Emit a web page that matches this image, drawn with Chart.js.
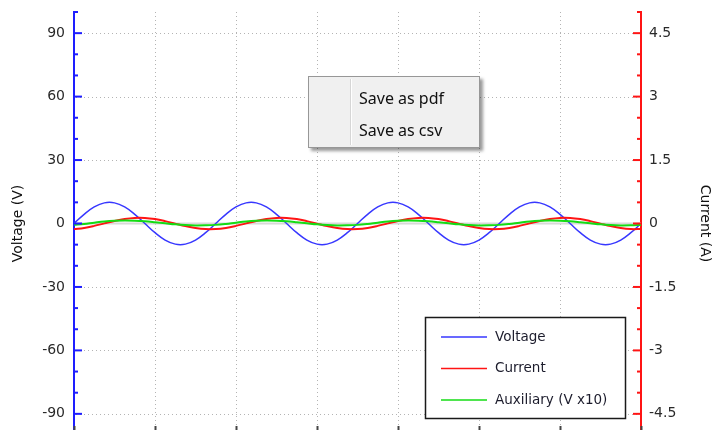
<!DOCTYPE html>
<html><head><meta charset="utf-8">
<script src="https://cdn.jsdelivr.net/npm/chart.js@4/dist/chart.umd.min.js"></script>
<style>
html,body{margin:0;padding:0;overflow:hidden;background:#fff;width:724px;height:430px}
#wrap{position:relative;width:724px;height:430px;overflow:hidden}
#c{position:absolute;left:0;top:0}
#menu{position:absolute;left:308px;top:76px;width:172px;height:72px;box-sizing:border-box;background:#f0f0f0;border:1px solid #979797;box-shadow:3px 3px 3px rgba(0,0,0,0.4);font-family:"Noto Sans",sans-serif;font-size:16px;color:#111}
#menu .sep{position:absolute;left:41px;top:2px;bottom:2px;width:1px;background:#d6d6d6;border-right:1px solid #fff}
#menu .item{position:absolute;left:50px;line-height:20px;white-space:nowrap}
</style></head><body>
<div id="wrap">
<canvas id="c" width="724" height="470"></canvas>
<div id="menu"><div class="sep"></div><div class="item" style="top:11px">Save as pdf</div><div class="item" style="top:43px">Save as csv</div></div>
</div>
<script>
const seriesLabels = ['Voltage', 'Current', 'Auxiliary (V x10)'];
const timeValues = [0,0.125,0.25,0.375,0.5,0.625,0.75,0.875,1,1.125,1.25,1.375,1.5,1.625,1.75,1.875,2,2.125,2.25,2.375,2.5,2.625,2.75,2.875,3,3.125,3.25,3.375,3.5,3.625,3.75,3.875,4,4.125,4.25,4.375,4.5,4.625,4.75,4.875,5,5.125,5.25,5.375,5.5,5.625,5.75,5.875,6,6.125,6.25,6.375,6.5,6.625,6.75,6.875,7];
const voltage = [0,4.34,7.82,9.75,9.75,7.82,4.34,0,-4.34,-7.82,-9.75,-9.75,-7.82,-4.34,
  0,4.34,7.82,9.75,9.75,7.82,4.34,0,-4.34,-7.82,-9.75,-9.75,-7.82,-4.34,
  0,4.34,7.82,9.75,9.75,7.82,4.34,0,-4.34,-7.82,-9.75,-9.75,-7.82,-4.34,
  0,4.34,7.82,9.75,9.75,7.82,4.34,0,-4.34,-7.82,-9.75,-9.75,-7.82,-4.34,0];
const current = [-0.131,-0.104,-0.056,0.003,0.061,0.107,0.132,0.131,0.104,0.056,-0.003,-0.061,-0.107,-0.132,
  -0.131,-0.104,-0.056,0.003,0.061,0.107,0.132,0.131,0.104,0.056,-0.003,-0.061,-0.107,-0.132,
  -0.131,-0.104,-0.056,0.003,0.061,0.107,0.132,0.131,0.104,0.056,-0.003,-0.061,-0.107,-0.132,
  -0.131,-0.104,-0.056,0.003,0.061,0.107,0.132,0.131,0.104,0.056,-0.003,-0.061,-0.107,-0.132,-0.131];
const auxiliary = [-0.65,-0.2,0.4,0.95,1.3,1.45,1.35,1.05,0.6,0.1,-0.4,-0.75,-0.9,-0.85,
  -0.65,-0.2,0.4,0.95,1.3,1.45,1.35,1.05,0.6,0.1,-0.4,-0.75,-0.9,-0.85,
  -0.65,-0.2,0.4,0.95,1.3,1.45,1.35,1.05,0.6,0.1,-0.4,-0.75,-0.9,-0.85,
  -0.65,-0.2,0.4,0.95,1.3,1.45,1.35,1.05,0.6,0.1,-0.4,-0.75,-0.9,-0.85,-0.65];
const voltTicks = [-90,-60,-30,0,30,60,90];
const currentTicks = [-4.5,-3,-1.5,0,1.5,3,4.5];
const timeTicks = [0,1,2,3,4,5,6,7];

const colors = ['rgb(55,55,255)', 'rgb(255,20,20)', 'rgb(20,220,20)'];
const pts = arr => timeValues.map((t, i) => ({x: t, y: arr[i]}));

const decorPlugin = {
  id: 'decor',
  beforeDatasetsDraw(chart) {
    const {ctx, chartArea: a, scales} = chart;
    const y = scales.y, x = scales.x;
    ctx.save();
    ctx.strokeStyle = '#b4b4b4';
    ctx.lineWidth = 1;
    ctx.setLineDash([1, 3]);
    voltTicks.forEach(v => {
      if (v === 0) return;
      const py = Math.round(y.getPixelForValue(v)) + 0.5;
      ctx.beginPath(); ctx.moveTo(a.left + 2, py); ctx.lineTo(a.right - 2, py); ctx.stroke();
    });
    timeTicks.forEach(t => {
      const px = Math.round(x.getPixelForValue(t)) + 0.5;
      if (px < a.left + 3 || px > a.right - 3) return;
      ctx.beginPath(); ctx.moveTo(px, a.top); ctx.lineTo(px, a.bottom); ctx.stroke();
    });
    ctx.setLineDash([]);
    ctx.strokeStyle = '#d8d8d8';
    ctx.lineWidth = 2;
    const zy = y.getPixelForValue(0);
    ctx.beginPath(); ctx.moveTo(a.left, zy); ctx.lineTo(a.right, zy); ctx.stroke();
    ctx.restore();
  },
  afterDatasetsDraw(chart) {
    const {ctx, chartArea: a, scales} = chart;
    const y = scales.y, y1 = scales.y1, x = scales.x;
    ctx.save();
    ctx.strokeStyle = 'rgb(30,30,255)';
    ctx.lineWidth = 2;
    for (let v = y.min; v <= y.max + 1e-9; v += 10) {
      const major = voltTicks.includes(Math.round(v));
      const py = y.getPixelForValue(v);
      ctx.beginPath(); ctx.moveTo(a.left, py); ctx.lineTo(a.left + (major ? 8 : 4), py); ctx.stroke();
    }
    ctx.strokeStyle = 'rgb(255,20,20)';
    for (let k = Math.round(y1.min * 2); k <= Math.round(y1.max * 2); k++) {
      const v = k / 2;
      const major = currentTicks.some(t => Math.abs(t - v) < 1e-6);
      const py = y1.getPixelForValue(v);
      ctx.beginPath(); ctx.moveTo(a.right, py); ctx.lineTo(a.right - (major ? 8 : 4), py); ctx.stroke();
    }
    ctx.strokeStyle = '#444';
    timeTicks.forEach(t => {
      const px = Math.round(x.getPixelForValue(t)) + 0.5;
      ctx.beginPath(); ctx.moveTo(px, a.bottom); ctx.lineTo(px, a.bottom - 9); ctx.stroke();
    });
    const L = 425.5, T = 317.5, W = 200, H = 101;
    ctx.fillStyle = '#fff';
    ctx.fillRect(L, T, W, H);
    ctx.strokeStyle = '#1a1a1a';
    ctx.lineWidth = 1.5;
    ctx.strokeRect(L, T, W, H);
    ctx.font = '13.5px "DejaVu Sans"';
    ctx.textBaseline = 'middle';
    ctx.textAlign = 'left';
    chart.data.datasets.forEach((ds, i) => {
      const ry = 337 + i * 31.5;
      ctx.strokeStyle = ds.borderColor;
      ctx.lineWidth = 1.5;
      ctx.beginPath(); ctx.moveTo(441, ry); ctx.lineTo(487, ry); ctx.stroke();
      ctx.fillStyle = '#1c1c2c';
      ctx.fillText(ds.label, 495, ry);
    });
    ctx.restore();
  }
};

new Chart(document.getElementById('c'), {
  type: 'line',
  data: {
    datasets: [
      {label: seriesLabels[0], data: pts(voltage), borderColor: colors[0], borderWidth: 1.5, yAxisID: 'y', order: 2},
      {label: seriesLabels[1], data: pts(current), borderColor: colors[1], borderWidth: 2, yAxisID: 'y1', order: 1},
      {label: seriesLabels[2], data: pts(auxiliary), borderColor: colors[2], borderWidth: 2, yAxisID: 'y', order: 0}
    ]
  },
  options: {
    responsive: false,
    animation: false,
    devicePixelRatio: 1,
    events: [],
    layout: {padding: {top: 12, left: 0, right: 0, bottom: 0}},
    elements: {point: {radius: 0}, line: {tension: 0.4}},
    plugins: {legend: {display: false}, tooltip: {enabled: false}},
    scales: {
      x: {
        type: 'linear', min: 0, max: 7,
        grid: {display: false, drawTicks: false},
        border: {display: false},
        ticks: {display: false},
        afterFit: s => { s.height = 35; s.paddingLeft = 0; s.paddingRight = 0; }
      },
      y: {
        position: 'left', min: -100, max: 100,
        grid: {display: false, drawTicks: false},
        border: {display: true, color: 'rgb(30,30,255)', width: 2},
        afterBuildTicks: s => { s.ticks = voltTicks.map(v => ({value: v})); },
        ticks: {padding: 9, color: '#2a2a2a', font: {family: 'DejaVu Sans', size: 14}},
        title: {display: true, text: 'Voltage (V)', color: '#111', font: {family: 'DejaVu Sans', size: 14}, padding: {top: 10, bottom: 0}},
        afterFit: s => { s.width = 74; s.paddingTop = 0; s.paddingBottom = 0; }
      },
      y1: {
        position: 'right', min: -5, max: 5,
        grid: {display: false, drawTicks: false},
        border: {display: true, color: 'rgb(255,20,20)', width: 2},
        afterBuildTicks: s => { s.ticks = currentTicks.map(v => ({value: v})); },
        ticks: {padding: 8, color: '#2a2a2a', font: {family: 'DejaVu Sans', size: 14}},
        title: {display: true, text: 'Current (A)', color: '#111', font: {family: 'DejaVu Sans', size: 14}, padding: {top: 11, bottom: 0}},
        afterFit: s => { s.width = 83; s.paddingTop = 0; s.paddingBottom = 0; }
      }
    }
  },
  plugins: [decorPlugin]
});
</script>
</body></html>
